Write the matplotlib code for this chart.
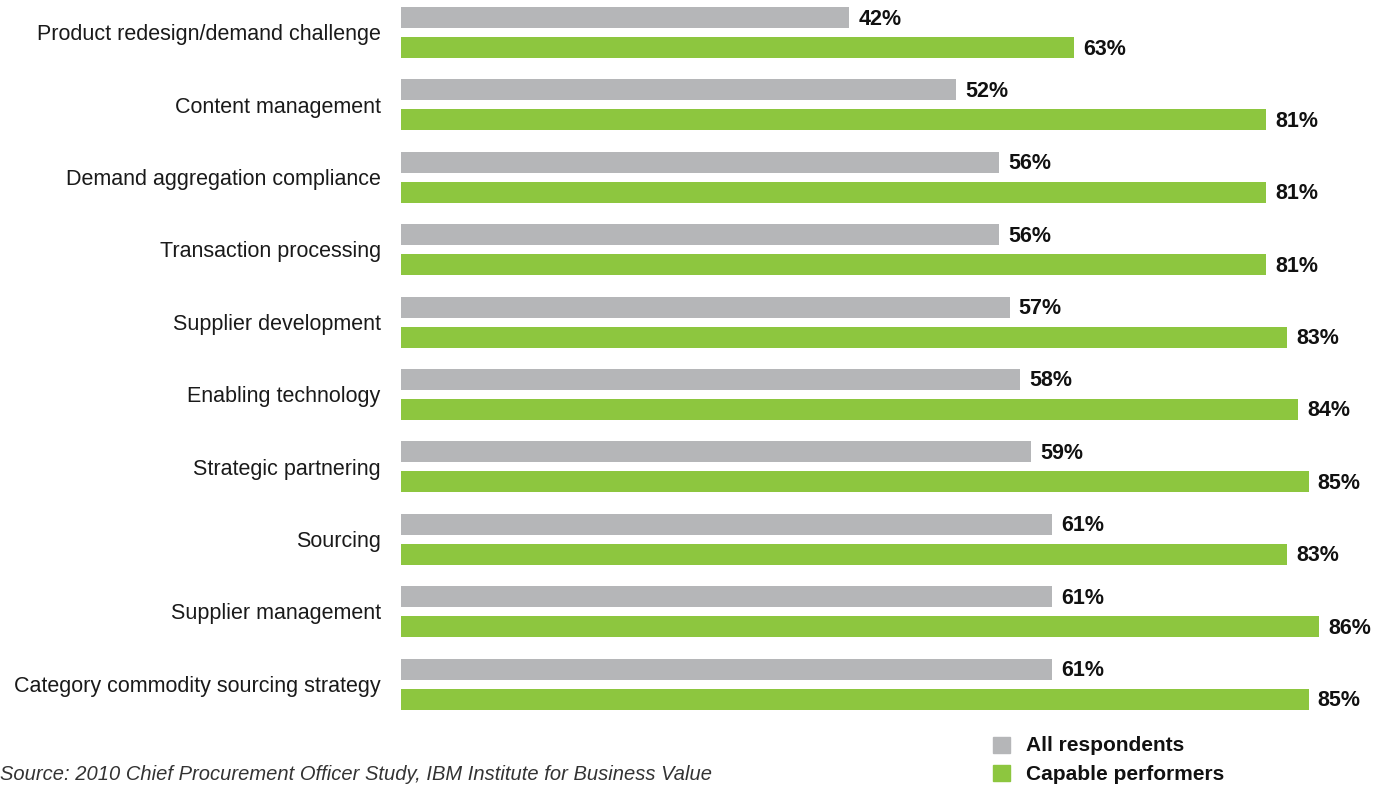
import matplotlib.pyplot as plt
from matplotlib.patches import Rectangle

plt.rcParams['font.family'] = ['Liberation Sans', 'DejaVu Sans']

categories = [
    'Product redesign/demand challenge',
    'Content management',
    'Demand aggregation compliance',
    'Transaction processing',
    'Supplier development',
    'Enabling technology',
    'Strategic partnering',
    'Sourcing',
    'Supplier management',
    'Category commodity sourcing strategy',
]
all_respondents = [42, 52, 56, 56, 57, 58, 59, 61, 61, 61]
capable_performers = [63, 81, 81, 81, 83, 84, 85, 83, 86, 85]
series_names = ['All respondents', 'Capable performers']

GRAY = '#b5b6b8'
GREEN = '#8dc63f'

W, H = 1380, 786
fig = plt.figure(figsize=(W / 100, H / 100), dpi=100)

# axes spans bar origin (x=401px) to the right edge; rows spaced ~72px
left, right = 401 / W, 1362 / W
top_px, bot_px = 0, 720.3
ax = fig.add_axes([left, 1 - bot_px / H, right - left, (bot_px - top_px) / H])
ax.set_xlim(0, 90)
ax.set_ylim(9.5, -0.45)
ax.axis('off')

ys = list(range(len(categories)))
off = 0.207
h = 0.29
ax.barh([y - off for y in ys], all_respondents, height=h, color=GRAY)
ax.barh([y + off for y in ys], capable_performers, height=h, color=GREEN)

for y, a, c, name in zip(ys, all_respondents, capable_performers, categories):
    ax.text(a + 0.85, y - off + 0.02, f'{a}%', va='center', ha='left',
            fontsize=15.5, fontweight='bold', color='#111111')
    ax.text(c + 0.85, y + off + 0.02, f'{c}%', va='center', ha='left',
            fontsize=15.5, fontweight='bold', color='#111111')
    ax.text(-1.9, y + 0.03, name, va='center', ha='right', fontsize=15.5,
            color='#1a1a1a')

# legend
for i, (name, col) in enumerate(zip(series_names, [GRAY, GREEN])):
    yc = 744.5 + i * 28.5
    fig.add_artist(Rectangle((993 / W, 1 - (yc + 8) / H), 17 / W, 16 / H,
                             transform=fig.transFigure, color=col))
    fig.text(1026 / W, 1 - (yc + 1) / H, name, va='center', ha='left',
             fontsize=15, fontweight='bold', color='#111111')

fig.text(0, 1.5 / H,
         'Source: 2010 Chief Procurement Officer Study, IBM Institute for Business Value',
         va='bottom', ha='left', fontsize=14.5, style='italic', color='#333333')

fig.savefig('out.png', dpi=100)
